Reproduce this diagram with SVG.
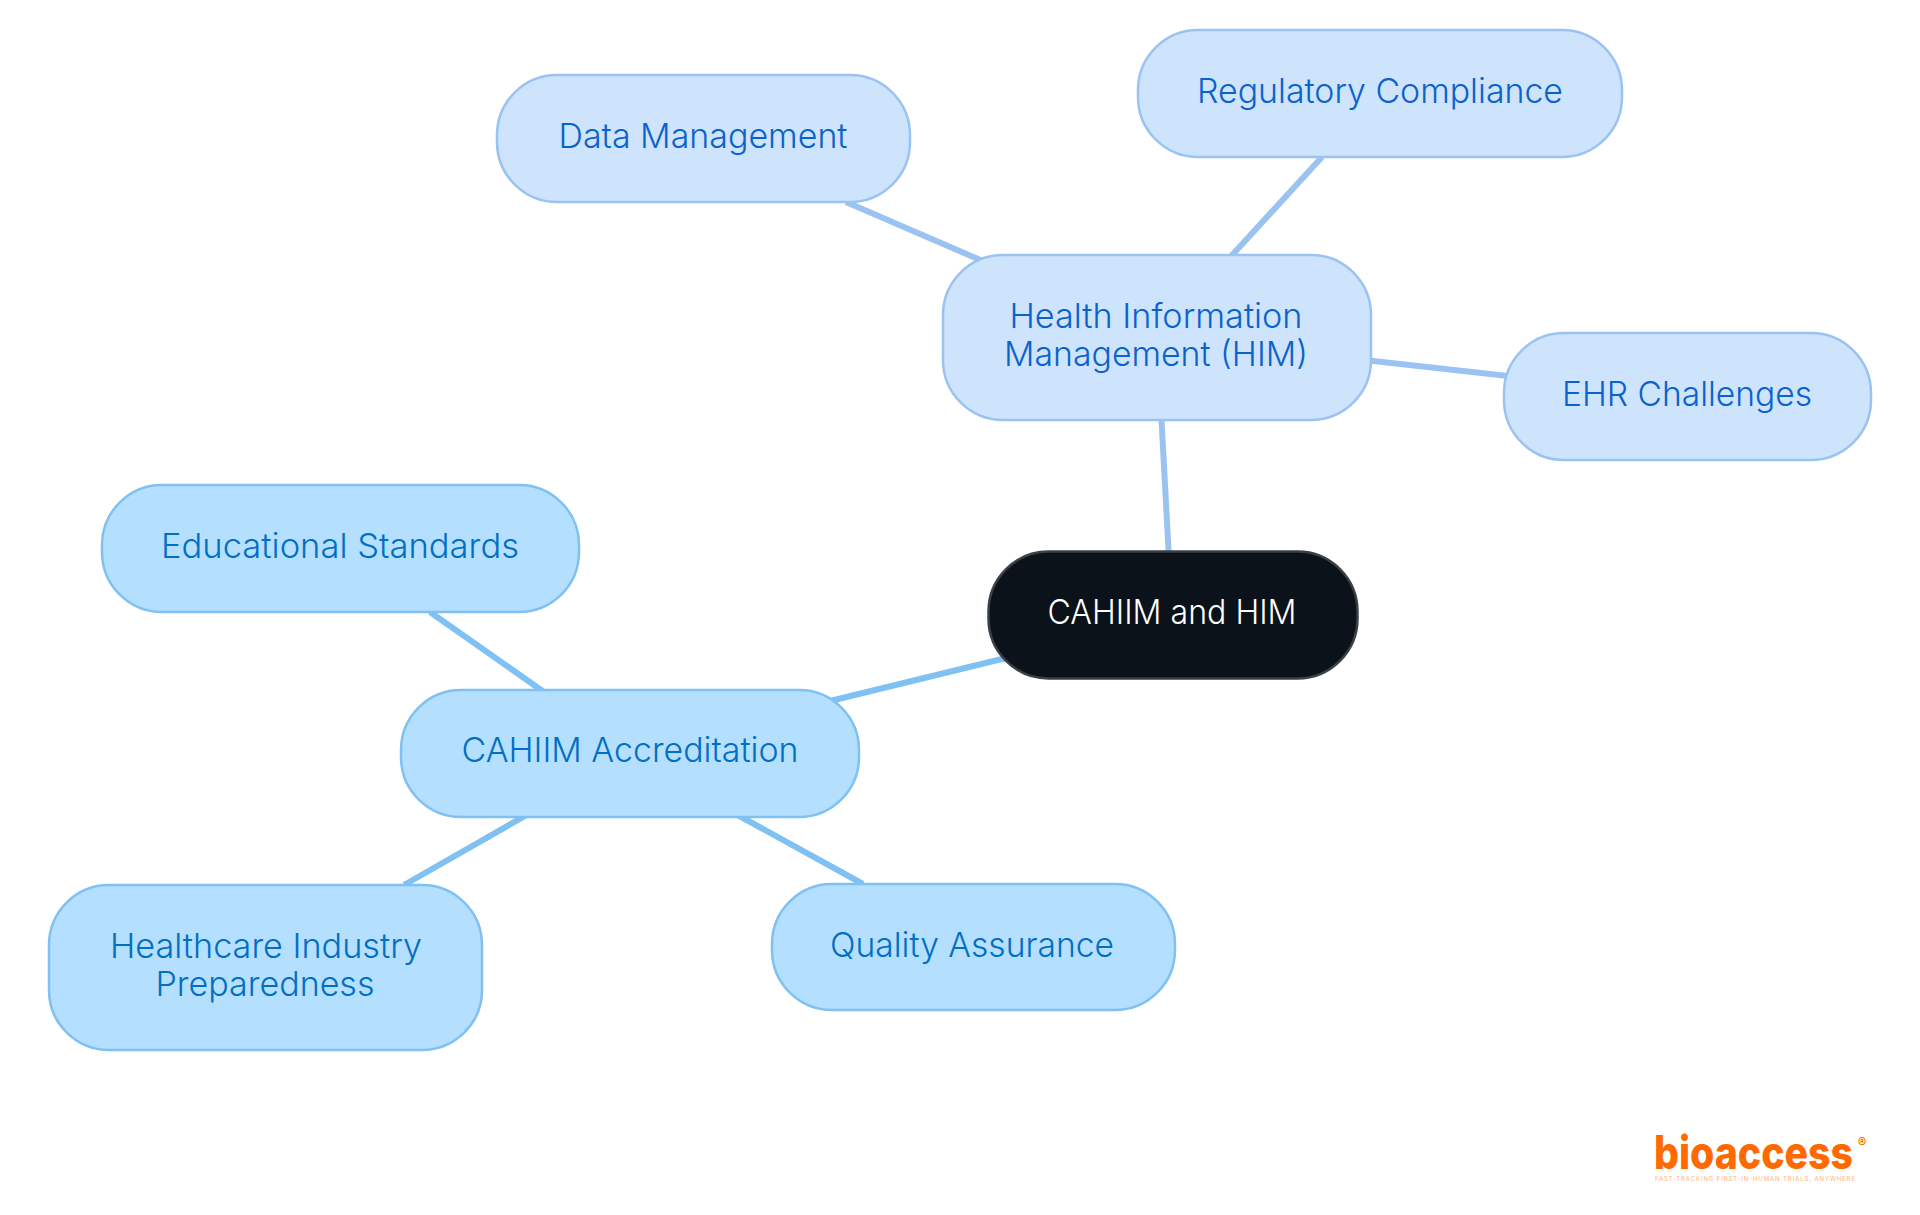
<svg xmlns="http://www.w3.org/2000/svg" width="1920" height="1215" viewBox="0 0 1920 1215">
<style>
text{font-family:"Inter","Noto Sans","Liberation Sans",sans-serif;font-size:34px;font-weight:300;text-anchor:middle}
.c1 rect{fill:#cee3fc;stroke:#9ac3f2;stroke-width:2.5}
.c1 text{fill:#0a62cc}
.c2 rect{fill:#b5dffe;stroke:#7fc1f2;stroke-width:2.5}
.c2 text{fill:#006fc4}
.l1{stroke:#9ac3f2;stroke-width:6;fill:none}
.l2{stroke:#7fc1f2;stroke-width:6;fill:none}
</style>
<rect width="1920" height="1215" fill="#ffffff"/>
<g id="connectors">
<line class="l1" x1="846" y1="202" x2="985" y2="262"/>
<line class="l1" x1="1157" y1="337" x2="1322" y2="157"/>
<line class="l1" x1="1157" y1="337" x2="1687" y2="396"/>
<line class="l1" x1="1157" y1="337" x2="1172" y2="614"/>
<line class="l2" x1="1010" y1="657" x2="826" y2="702"/>
<line class="l2" x1="430" y1="612" x2="544" y2="692"/>
<line class="l2" x1="530" y1="813" x2="404" y2="885"/>
<line class="l2" x1="734" y1="813" x2="863" y2="884"/>
</g>
<g id="node-root"><rect x="988.500" y="551.500" width="369" height="127" rx="60" fill="#0b121a" stroke="#3a4047" stroke-width="2.500"/><text x="1172" y="624" fill="#ffffff" textLength="249" lengthAdjust="spacingAndGlyphs">CAHIIM and HIM</text></g>
<g id="node-him" class="c1"><rect x="943" y="255" width="428" height="165" rx="60"/><text x="1156" y="328" textLength="293" lengthAdjust="spacingAndGlyphs">Health Information</text><text x="1156" y="366" textLength="304" lengthAdjust="spacingAndGlyphs">Management (HIM)</text></g>
<g id="node-data" class="c1"><rect x="497" y="75" width="413" height="127" rx="60"/><text x="703" y="148" textLength="289" lengthAdjust="spacingAndGlyphs">Data Management</text></g>
<g id="node-reg" class="c1"><rect x="1138" y="30" width="484" height="127" rx="60"/><text x="1380" y="103" textLength="366" lengthAdjust="spacingAndGlyphs">Regulatory Compliance</text></g>
<g id="node-ehr" class="c1"><rect x="1504" y="333" width="367" height="127" rx="60"/><text x="1687" y="406" textLength="250" lengthAdjust="spacingAndGlyphs">EHR Challenges</text></g>
<g id="node-acc" class="c2"><rect x="401" y="690" width="458" height="127" rx="60"/><text x="630" y="762" textLength="337" lengthAdjust="spacingAndGlyphs">CAHIIM Accreditation</text></g>
<g id="node-edu" class="c2"><rect x="102" y="485" width="477" height="127" rx="60"/><text x="340" y="558" textLength="358" lengthAdjust="spacingAndGlyphs">Educational Standards</text></g>
<g id="node-hc" class="c2"><rect x="49" y="885" width="433" height="165" rx="60"/><text x="266" y="958" textLength="312" lengthAdjust="spacingAndGlyphs">Healthcare Industry</text><text x="265" y="996" textLength="219" lengthAdjust="spacingAndGlyphs">Preparedness</text></g>
<g id="node-qa" class="c2"><rect x="772" y="884" width="403" height="126" rx="60"/><text x="972" y="957" textLength="284" lengthAdjust="spacingAndGlyphs">Quality Assurance</text></g>
<g id="logo">
<text x="1654" y="1169" style="font-size:46px;font-weight:800;text-anchor:start;fill:#ff6900" textLength="199" lengthAdjust="spacingAndGlyphs">bioaccess</text>
<text x="1862" y="1147" style="font-size:13px;font-weight:700;fill:#ff6900">®</text>
<text x="1755" y="1181" style="font-size:6px;font-weight:400;fill:#ffb27f" textLength="200">FAST-TRACKING FIRST-IN-HUMAN TRIALS, ANYWHERE</text>
</g>
</svg>
